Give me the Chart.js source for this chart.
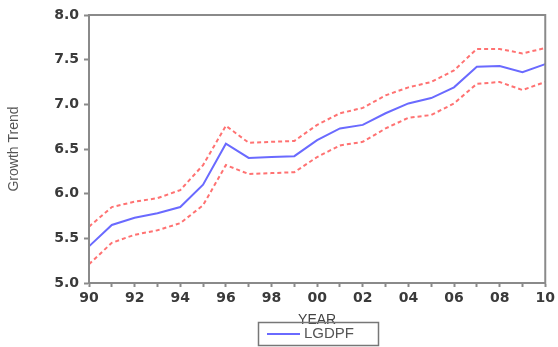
<!DOCTYPE html>
<html>
<head>
<meta charset="utf-8">
<script src="https://cdn.jsdelivr.net/npm/chart.js@4.4.0/dist/chart.umd.min.js"></script>
<style>
    html, body { margin: 0; padding: 0; background: #fff; }
    #wrap { width: 558px; height: 347px; }
</style>
</head>
<body>
<div id="wrap"><canvas id="chart" width="558" height="347"></canvas></div>
<script>
// Data
const years = ['90','91','92','93','94','95','96','97','98','99','00','01','02','03','04','05','06','07','08','09','10'];
const lgdpf = [5.41,5.65,5.73,5.78,5.85,6.10,6.56,6.40,6.41,6.42,6.60,6.73,6.77,6.90,7.01,7.07,7.19,7.42,7.43,7.36,7.45];
const upperBand = [5.63,5.85,5.91,5.95,6.04,6.32,6.76,6.57,6.58,6.59,6.77,6.90,6.96,7.10,7.19,7.25,7.38,7.62,7.62,7.57,7.63];
const lowerBand = [5.21,5.45,5.54,5.59,5.67,5.87,6.32,6.22,6.23,6.24,6.41,6.54,6.58,6.73,6.85,6.88,7.01,7.23,7.25,7.16,7.25];

const axisGray = '#8a8a8a';
const textGray = '#3a3a3a';

// Frame around plot + legend box
const framePlugin = {
    id: 'frame',
    afterDraw(chart) {
        const { ctx, chartArea: a } = chart;
        ctx.save();
        ctx.strokeStyle = axisGray;
        ctx.lineWidth = 2;
        ctx.strokeRect(a.left, a.top, a.right - a.left, a.bottom - a.top);

        // legend
        ctx.lineWidth = 1.5;
        ctx.strokeStyle = '#777';
        ctx.strokeRect(258.5, 322.5, 120, 23);
        ctx.strokeStyle = '#6a6aff';
        ctx.lineWidth = 2;
        ctx.beginPath();
        ctx.moveTo(267, 334);
        ctx.lineTo(300, 334);
        ctx.stroke();
        ctx.fillStyle = '#555';
        ctx.font = '15px "Liberation Sans", Arial, sans-serif';
        ctx.textBaseline = 'middle';
        ctx.fillText('LGDPF', 304, 334);
        ctx.restore();
    }
};

const ctx = document.getElementById('chart').getContext('2d');
new Chart(ctx, {
    type: 'line',
    data: {
        labels: years,
        datasets: [
            { label: 'LGDPF', data: lgdpf, borderColor: '#6a6aff', borderWidth: 2, pointRadius: 0, tension: 0 },
            { label: 'upper', data: upperBand, borderColor: '#ff7272', borderWidth: 2, borderDash: [4, 3], pointRadius: 0, tension: 0 },
            { label: 'lower', data: lowerBand, borderColor: '#ff7272', borderWidth: 2, borderDash: [4, 3], pointRadius: 0, tension: 0 }
        ]
    },
    options: {
        responsive: false,
        animation: false,
        layout: { padding: { top: 15, right: 9, left: 0, bottom: 0 } },
        plugins: { legend: { display: false }, tooltip: { enabled: false } },
        scales: {
            x: {
                type: 'category',
                offset: false,
                border: { color: axisGray, width: 2 },
                grid: { drawOnChartArea: false, tickLength: 4, tickColor: axisGray, tickWidth: 2 },
                ticks: {
                    autoSkip: false,
                    maxRotation: 0,
                    padding: 3,
                    color: textGray,
                    font: { family: 'DejaVu Sans', size: 14, weight: 'bold' },
                    callback: (v, i) => (i % 2 === 0 ? years[i] : '')
                },
                title: {
                    display: true,
                    text: 'YEAR',
                    color: '#444',
                    font: { family: 'Liberation Sans', size: 14 },
                    padding: { top: 0, bottom: 18 }
                },
                afterFit: s => { s.height = 64; }
            },
            y: {
                min: 5.0,
                max: 8.0,
                border: { color: axisGray, width: 2 },
                grid: { drawOnChartArea: false, tickLength: 5, tickColor: axisGray, tickWidth: 2 },
                ticks: {
                    stepSize: 0.5,
                    padding: 5,
                    color: textGray,
                    font: { family: 'DejaVu Sans', size: 14, weight: 'bold' },
                    callback: v => v.toFixed(1)
                },
                title: {
                    display: true,
                    text: 'Growth Trend',
                    color: '#555',
                    font: { family: 'Liberation Sans', size: 14 },
                    padding: { top: 6, bottom: 0 }
                },
                afterFit: s => { s.width = 89; }
            }
        }
    },
    plugins: [framePlugin]
});
</script>
</body>
</html>
